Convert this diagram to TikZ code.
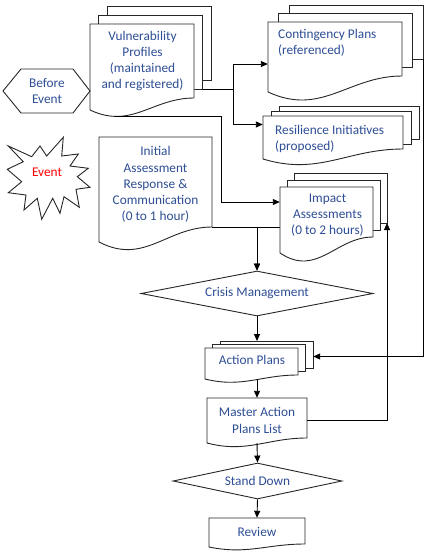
\documentclass[tikz,border=0pt]{standalone}
\usepackage{fontspec}
\setmainfont{Carlito}
\usetikzlibrary{positioning,arrows.meta,calc,fit,shapes.geometric}
\definecolor{txtblue}{RGB}{46,78,150}
\tikzset{
  docline/.style={draw=black!85,line width=0.9pt,fill=white},
  shapeline/.style={draw=black!85,line width=0.9pt},
  conn/.style={-{Triangle[length=7pt,width=6pt]},line width=0.9pt},
  lbl/.style={font=\fontsize{13.3}{16.2}\selectfont,text=txtblue,align=center,inner sep=0pt},
  dia/.style={diamond,draw=black!85,line width=0.9pt,fill=white,inner sep=0pt,
    font=\fontsize{13.3}{16.2}\selectfont,text=txtblue},
}
% document page (with pages behind): name, left, top, right, wave end, wave drop, pages behind, dx, dy
\newcommand\docstack[9]{%
  \ifnum#7>0
    \foreach \k in {#7,...,1}{
      \draw[docline] ({#2+\k*#8},{#3-\k*#9}) rectangle ({#4+\k*#8},{#5-\k*#9});
      \coordinate (#1-tl\k) at ({#2+\k*#8},{#3-\k*#9});
      \coordinate (#1-br\k) at ({#4+\k*#8},{#5-\k*#9});
    }
  \fi
  \draw[docline] (#2,#3) -- (#4,#3) -- (#4,#5)
    .. controls ({#2+0.6*(#4-#2)},#5) and ({#2+0.4*(#4-#2)},{#5+2.3*#6+4}) .. (#2,{#5+#6}) -- cycle;
  \pgfmathsetmacro\docbot{#5+#6}
  \node[inner sep=0pt,fit={(#2,#3) (#4,\docbot)}] (#1) {};
}

\begin{document}
\begin{tikzpicture}[x=1pt,y=-1pt]
  \useasboundingbox (0,0) rectangle (428,555);

  % documents
  \docstack{vp}{90}{24}{194}{98}{12}{2}{8.5}{9}
  \docstack{cp}{268}{22}{402}{76}{16}{2}{10.5}{8.5}
  \docstack{ri}{263}{116}{403}{149}{10}{2}{8}{5}
  \docstack{ia}{99}{137}{212}{227}{15}{0}{0}{0}
  \docstack{im}{280}{187}{373}{237}{16}{2}{7}{7}
  \docstack{ap}{205}{348}{298}{375}{4}{2}{7.5}{3.5}
  \docstack{ma}{207}{398}{307}{438}{5}{0}{0}{0}
  \docstack{rv}{209}{518}{305}{544}{3}{0}{0}{0}

  \node[lbl] (vp-t) at (142.5,61) {Vulnerability\\Profiles\\(maintained\\and registered)};
  \node[lbl,align=left,anchor=base west] (cp-t) at (278,54.7) {Contingency Plans\\(referenced)};
  \node[lbl,align=left,anchor=base west] (ri-t) at (275,150.7) {Resilience Initiatives\\(proposed)};
  \node[lbl] (ia-t) at (155.5,184.5) {Initial\\Assessment\\Response \&\\Communication\\(0 to 1 hour)};
  \node[lbl] (im-t) at (327.5,215) {Impact\\Assessments\\(0 to 2 hours)};
  \node[lbl] (ap-t) at (252,360) {Action Plans};
  \node[lbl] (ma-t) at (257,420.5) {Master Action\\Plans List};
  \node[lbl] (rv-t) at (257,532) {Review};

  % decisions
  \node[dia,aspect=5.1,minimum width=232pt,minimum height=45pt] (cm) at (257,293.5) {Crisis Management};
  \node[dia,aspect=4.7,minimum width=169pt,minimum height=36pt] (sd) at (257.5,481) {Stand Down};

  % before event / event
  \node[lbl] (be) at (47,91) {Before\\Event};
  \draw[shapeline] ($(be)+(-44,0)$) -- ++(18,-22) -- ++(52,0) -- ++(17,22)
    -- ++(-17,22) -- ++(-52,0) -- cycle;
  \node[lbl,text=red] (ev) at (47,172) {Event};
  \draw[shapeline,shift={(ev.center)}] (-38.7,-26) -- (-15.3,-15.3) -- (-7,-26) -- (-0.3,-16)
    -- (16.3,-34.7) -- (14.7,-16) -- (31.3,-18) -- (23,-6) -- (41.3,-3.7) -- (30.3,4.7)
    -- (43,15.3) -- (29,17.3) -- (32.3,35.3) -- (17,24.7) -- (13,41.3) -- (5.7,26.3)
    -- (-5.3,47.3) -- (-9.7,26.3) -- (-23,38) -- (-21,23) -- (-38.7,20.7) -- (-25.3,9.7)
    -- (-39.7,-2.7) -- (-23.7,-10.3) -- cycle;

  % connectors
  \draw[conn] (vp-br1) -- ++(31,0) coordinate (split) |- ([yshift=-7pt]cp.west);
  \draw[conn] (split) |- ([yshift=13pt]ri.west);
  \draw[conn] ([xshift=-27pt,yshift=-6pt]vp.south) -- ++(106,0) |- ([yshift=18pt]im.west);
  \draw[conn] ([yshift=15pt]ia.south east) -| (cm.north);
  \draw[conn] ([yshift=-7pt]im.west) -| (cm.north);
  \draw[conn] (cm.south) -- (cm.south |- ap-tl2);
  \draw[conn] (cp-br2) |- ([xshift=15pt,yshift=7pt]ap.east);
  \draw[conn] (ma.north |- ap.south) -- (ma.north);
  \draw[conn] (ma.east) -| (im-br2);
  \draw[conn] (ma.south) -- (sd.north);
  \draw[conn] (sd.south) -- (rv.north);
\end{tikzpicture}
\end{document}
